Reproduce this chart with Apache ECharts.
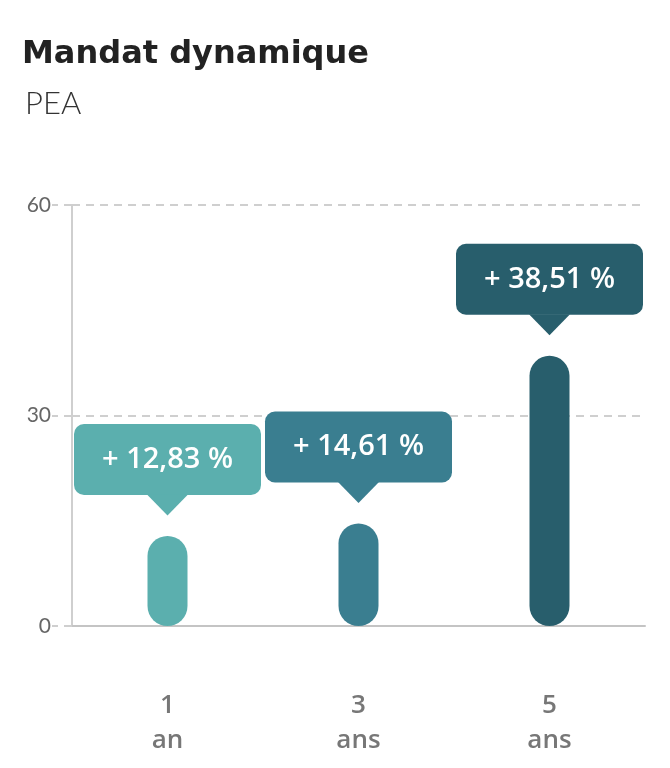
<!DOCTYPE html>
<html>
<head>
<meta charset="utf-8">
<script src="https://cdn.jsdelivr.net/npm/echarts@6/dist/echarts.min.js"></script>
<style>
  html, body { margin: 0; padding: 0; background: #fff; }
  #chart { width: 670px; height: 768px; }
</style>
</head>
<body>
<div id="chart"></div>
<script>
// data
var categories = ['1\nan', '3\nans', '5\nans'];
var values = [12.83, 14.61, 38.51];
var labels = ['+ 12,83 %', '+ 14,61 %', '+ 38,51 %'];
var colors = ['#5BAFAE', '#3A7E90', '#285E6C'];
var yTicks = [0, 30, 60];

var chart = echarts.init(document.getElementById('chart'));

var barData = values.map(function (v, i) {
  return {
    value: v,
    itemStyle: { color: colors[i] },
    label: { backgroundColor: colors[i], formatter: labels[i] }
  };
});

// little downward tail under each callout
var tailData = values.map(function (v, i) {
  return { value: v, itemStyle: { color: colors[i], opacity: 1 } };
});

chart.setOption({
  backgroundColor: '#fff',
  animation: false,
  title: [{
    text: 'Mandat dynamique',
    left: 17,
    top: 34,
    textStyle: { fontFamily: 'DejaVu Sans', fontWeight: 'bold', fontSize: 32, color: '#222' }
  }, {
    text: 'PEA',
    left: 20,
    top: 83,
    textStyle: { fontFamily: 'Lato', fontWeight: 300, fontSize: 31, color: '#333' }
  }],
  grid: {
    left: 72,
    right: 25,
    top: 205,
    bottom: 142,
    containLabel: false
  },
  xAxis: {
    type: 'category',
    data: categories,
    axisLine: { show: true, lineStyle: { color: '#c4c4c4', width: 2 } },
    axisTick: { show: false },
    axisLabel: {
      margin: 62,
      color: '#777',
      fontFamily: 'Open Sans',
      fontWeight: 600,
      fontSize: 26,
      lineHeight: 35
    }
  },
  yAxis: {
    type: 'value',
    min: yTicks[0],
    max: yTicks[yTicks.length - 1],
    interval: 30,
    axisLine: { show: true, lineStyle: { color: '#cfcfcf', width: 2 } },
    axisTick: { show: true, length: 20, lineStyle: { color: '#cfcfcf', type: [8, 6], width: 2 } },
    axisLabel: { margin: 21, color: '#666', fontFamily: 'Lato', fontSize: 21 },
    splitLine: { show: true, lineStyle: { color: '#cfcfcf', type: [8, 6], width: 2 } }
  },
  series: [{
    type: 'bar',
    data: barData,
    barWidth: 40,
    itemStyle: { borderRadius: 20 },
    z: 3,
    label: {
      show: true,
      position: 'top',
      distance: 41,
      color: '#fff',
      fontFamily: 'Open Sans',
      fontWeight: 600,
      fontSize: 29,
      lineHeight: 29,
      width: 187,
      align: 'center',
      padding: [21, 0, 21, 0],
      borderRadius: 10
    }
  }, {
    type: 'scatter',
    data: tailData,
    symbol: 'triangle',
    symbolRotate: 180,
    symbolSize: [41, 21],
    symbolOffset: [0, -31],
    silent: true,
    z: 4
  }]
});
</script>
</body>
</html>
